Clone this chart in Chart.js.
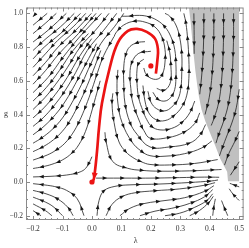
<!DOCTYPE html>
<html>
<head>
<meta charset="utf-8">
<script src="https://cdn.jsdelivr.net/npm/chart.js"></script>
<style>
html, body { margin: 0; padding: 0; background: #fff; }
</style>
</head>
<body>
<canvas id="myChart" width="249" height="248"></canvas>
<script>
// RG flow of (lambda, g): streamlines traced by eye, listed in flow direction
const leftLines = [
  [[-0.19,1.0],[-0.2,0.98]],
  [[-0.152,1.0],[-0.176,0.965],[-0.2,0.93]],
  [[-0.121,1.0],[-0.159,0.94],[-0.2,0.88]],
  [[-0.087,1.0],[-0.149,0.9],[-0.2,0.83]],
  [[-0.06,1.0],[-0.107,0.92],[-0.156,0.85],[-0.2,0.78]],
  [[-0.039,1.0],[-0.073,0.94],[-0.107,0.88],[-0.162,0.8],[-0.2,0.73]],
  [[-0.021,1.0],[-0.064,0.92],[-0.116,0.84],[-0.158,0.76],[-0.2,0.68]],
  [[-0.002,1.0],[-0.055,0.9],[-0.115,0.8],[-0.157,0.71],[-0.2,0.63]],
  [[0.014,1.0],[-0.046,0.88],[-0.112,0.76],[-0.158,0.66],[-0.2,0.58]],
  [[0.032,1.0],[-0.042,0.86],[-0.098,0.74],[-0.149,0.62],[-0.2,0.53]],
  [[-0.012,0.88],[-0.064,0.78],[-0.111,0.66],[-0.155,0.56],[-0.2,0.48]],
  [[0.058,1.0],[0.012,0.9],[-0.04,0.8],[-0.083,0.68],[-0.123,0.58],[-0.16,0.5],[-0.2,0.43]],
  [[-0.001,0.85],[-0.044,0.74],[-0.084,0.62],[-0.124,0.52],[-0.163,0.44],[-0.2,0.38]],
  [[0.084,1.0],[0.04,0.9],[-0.016,0.78],[-0.055,0.65],[-0.092,0.54],[-0.13,0.45],[-0.166,0.38],[-0.2,0.33]],
  [[0.0155,0.82],[-0.021,0.7],[-0.057,0.58],[-0.09,0.48],[-0.124,0.4],[-0.163,0.33],[-0.2,0.28]],
  [[0.108,1.0],[0.076,0.92],[0.03,0.82],[-0.004,0.7],[-0.035,0.58],[-0.068,0.47],[-0.1,0.38],[-0.136,0.31],[-0.172,0.26],[-0.2,0.23]],
  [[0.03,0.78],[0.004,0.66],[-0.024,0.54],[-0.051,0.44],[-0.076,0.36],[-0.101,0.3],[-0.131,0.25],[-0.165,0.21],[-0.2,0.18]],
  [[0.074,0.86],[0.04,0.75],[0.019,0.65],[0.0,0.55],[-0.021,0.45],[-0.043,0.36],[-0.065,0.29],[-0.092,0.23],[-0.121,0.19],[-0.152,0.16],[-0.2,0.13]],
  [[0.028,0.6],[0.012,0.5],[-0.004,0.4],[-0.022,0.3],[-0.045,0.22],[-0.069,0.17],[-0.101,0.13],[-0.136,0.105],[-0.169,0.09],[-0.2,0.08]],
  [[0.0,0.15],[-0.008,0.12],[-0.022,0.08],[-0.04,0.06],[-0.072,0.045],[-0.126,0.035],[-0.2,0.03]]
];

const lowerLeftLines = [
  [[-0.027,-0.2],[-0.05,-0.1],[-0.086,-0.05],[-0.12,-0.03],[-0.15,-0.02],[-0.2,-0.01]],
  [[-0.064,-0.2],[-0.082,-0.15],[-0.117,-0.1],[-0.156,-0.07],[-0.2,-0.05]],
  [[-0.1,-0.2],[-0.129,-0.15],[-0.157,-0.12],[-0.2,-0.09]],
  [[-0.136,-0.2],[-0.158,-0.17],[-0.2,-0.13]],
  [[-0.173,-0.2],[-0.2,-0.17]]
];

const rightLines = [
  [[0.014,0.023],[0.095,0.023],[0.197,0.023],[0.298,0.026],[0.383,0.029],[0.432,0.028]],
  [[0.044,0.295],[0.048,0.237],[0.071,0.121],[0.122,0.081],[0.17,0.069],[0.231,0.064],[0.332,0.066],[0.417,0.072],[0.44,0.074]],
  [[0.071,0.526],[0.068,0.468],[0.075,0.353],[0.092,0.237],[0.115,0.179],[0.139,0.145],[0.166,0.121],[0.197,0.104],[0.264,0.101],[0.349,0.11],[0.427,0.133]],
  [[0.088,0.665],[0.085,0.584],[0.088,0.468],[0.102,0.353],[0.136,0.237],[0.166,0.185],[0.197,0.156],[0.248,0.153],[0.315,0.168],[0.373,0.202],[0.407,0.243]],
  [[0.18,0.832],[0.156,0.827],[0.129,0.803],[0.115,0.757],[0.108,0.682],[0.108,0.584],[0.112,0.468],[0.129,0.353],[0.153,0.283],[0.197,0.208],[0.264,0.208],[0.332,0.231],[0.366,0.277],[0.386,0.341]],
  [[0.2,0.775],[0.159,0.763],[0.136,0.711],[0.129,0.642],[0.132,0.555],[0.139,0.468],[0.163,0.353],[0.176,0.306],[0.197,0.26],[0.258,0.263],[0.312,0.295],[0.349,0.347],[0.366,0.41]],
  [[0.176,0.728],[0.159,0.705],[0.153,0.665],[0.153,0.584],[0.159,0.497],[0.173,0.422],[0.186,0.37],[0.203,0.329],[0.231,0.309],[0.271,0.318],[0.305,0.353],[0.332,0.41],[0.349,0.48]]
];

const spiralLines = [
  [[0.176,0.676],[0.183,0.642],[0.203,0.613],[0.227,0.613],[0.241,0.647],[0.248,0.711],[0.248,0.786],[0.237,0.861],[0.214,0.919],[0.18,0.948],[0.146,0.954],[0.108,0.931],[0.081,0.884],[0.075,0.861]],
  [[0.22,0.555],[0.241,0.543],[0.258,0.561],[0.268,0.607],[0.268,0.688],[0.264,0.769],[0.254,0.838]],
  [[0.207,0.532],[0.224,0.491],[0.248,0.48],[0.268,0.503],[0.281,0.549],[0.285,0.613],[0.285,0.699],[0.281,0.786],[0.268,0.861],[0.248,0.919],[0.22,0.96],[0.186,0.983],[0.153,0.988],[0.122,0.983],[0.102,0.983]],
  [[0.19,0.538],[0.2,0.474],[0.22,0.434],[0.248,0.422],[0.271,0.445],[0.292,0.491],[0.302,0.561],[0.305,0.653],[0.305,0.757],[0.298,0.856],[0.285,0.931],[0.264,0.983],[0.248,1.0]],
  [[0.173,0.572],[0.18,0.48],[0.193,0.41],[0.217,0.37],[0.248,0.364],[0.278,0.393],[0.305,0.445],[0.322,0.515],[0.329,0.613],[0.329,0.728],[0.325,0.844],[0.319,0.942],[0.312,1.0]]
];

const lowerRightLines = [
  [[0.017,-0.2],[0.024,-0.11],[0.041,-0.052],[0.078,-0.026],[0.129,-0.017],[0.231,-0.012],[0.332,-0.003],[0.405,0.006],[0.428,0.012]],
  [[0.048,-0.2],[0.068,-0.133],[0.102,-0.087],[0.146,-0.064],[0.214,-0.052],[0.298,-0.041],[0.383,-0.019],[0.418,-0.004]],
  [[0.095,-0.2],[0.129,-0.156],[0.18,-0.127],[0.248,-0.11],[0.315,-0.093],[0.383,-0.055],[0.414,-0.022]],
  [[0.163,-0.2],[0.214,-0.173],[0.271,-0.156],[0.332,-0.127],[0.383,-0.087],[0.41,-0.045]],
  [[0.248,-0.2],[0.298,-0.185],[0.349,-0.15],[0.39,-0.11],[0.41,-0.07]],
  [[0.332,-0.2],[0.366,-0.168],[0.397,-0.121],[0.412,-0.085]],
  [[0.41,-0.2],[0.414,-0.145],[0.419,-0.1]],
  [[0.5,-0.11],[0.479,-0.072],[0.466,-0.04]],
  [[0.5,-0.029],[0.48,-0.016],[0.468,-0.008]],
  [[0.461,-0.2],[0.449,-0.15],[0.44,-0.11]]
];

const singularLines = [
  [[0.346,1.0],[0.347,0.87],[0.347,0.76]],
  [[0.38,1.0],[0.379,0.83],[0.374,0.66],[0.366,0.52]],
  [[0.414,1.0],[0.413,0.82],[0.408,0.64],[0.398,0.5],[0.384,0.4]],
  [[0.447,1.0],[0.446,0.8],[0.44,0.6],[0.43,0.47],[0.415,0.38],[0.405,0.335]],
  [[0.481,1.0],[0.48,0.8],[0.474,0.6],[0.463,0.46],[0.447,0.36],[0.43,0.28],[0.421,0.23]],
  [[0.5,0.55],[0.49,0.44],[0.475,0.35],[0.455,0.26],[0.44,0.19],[0.433,0.155]],
  [[0.5,0.3],[0.485,0.24],[0.465,0.17],[0.45,0.1]],
  [[0.5,0.12],[0.485,0.08],[0.47,0.04]]
];

const singularBoundary = [[0.329,1.035],[0.335,0.95],[0.34,0.854],[0.345,0.76],[0.351,0.661],[0.357,0.58],[0.363,0.508],[0.372,0.43],[0.385,0.36],[0.401,0.29],[0.419,0.214],[0.436,0.137],[0.45,0.09],[0.459,0.06],[0.462,0.005],[0.5,0.005]];

const separatrix = [[0.217,0.642],[0.222,0.72],[0.224,0.786],[0.214,0.85],[0.186,0.89],[0.153,0.908],[0.122,0.896],[0.088,0.827],[0.061,0.682],[0.034,0.468],[0.024,0.324],[0.017,0.179],[0.007,0.023],[0.002,0.0]];
const fixedPoints = [[0.2,0.688],[0.0,0.0]];

const xTicks = [-0.2, -0.1, 0.0, 0.1, 0.2, 0.3, 0.4, 0.5];
const yTicks = [-0.2, 0.0, 0.2, 0.4, 0.6, 0.8, 1.0];

const serif = '"Liberation Serif", "DejaVu Serif", serif';
const toPts = arr => arr.map(p => ({ x: p[0], y: p[1] }));
const fmt = v => (Math.abs(v) < 1e-9 ? '0.0' : (v < 0 ? '\u2212' + Math.abs(v).toFixed(1) : v.toFixed(1)));

const datasets = [];
datasets.push({ data: toPts(fixedPoints), showLine: false, pointRadius: 2.6, pointBackgroundColor: 'rgb(235,20,20)', pointBorderWidth: 0, order: -3 });
datasets.push({ data: toPts(separatrix), showLine: true, borderColor: 'rgb(235,20,20)', borderWidth: 2.7, pointRadius: 0, tension: 0.4, order: -2, red: true });
[...leftLines, ...lowerLeftLines, ...rightLines, ...spiralLines, ...lowerRightLines, ...singularLines].forEach(l => {
  datasets.push({ data: toPts(l), showLine: true, borderColor: '#202020', borderWidth: 0.8, pointRadius: 0, tension: 0.4, stream: true });
});
datasets.push({ data: toPts(singularBoundary), showLine: true, borderWidth: 0, pointRadius: 0, tension: 0, fill: 'end', backgroundColor: 'rgb(192,192,192)', order: 10 });

// sample the drawn bezier curve of a dataset in pixels
function curvePath(meta) {
  const pts = meta.data;
  const out = [];
  for (let k = 0; k < pts.length; k++) {
    const p = pts[k];
    if (k === 0) { out.push([p.x, p.y]); continue; }
    const q = pts[k - 1];
    const ax = q.cp2x !== undefined ? q.cp2x : q.x, ay = q.cp2y !== undefined ? q.cp2y : q.y;
    const bx = p.cp1x !== undefined ? p.cp1x : p.x, by = p.cp1y !== undefined ? p.cp1y : p.y;
    for (let t = 1; t <= 10; t++) {
      const s = t / 10, u = 1 - s;
      out.push([u*u*u*q.x + 3*u*u*s*ax + 3*u*s*s*bx + s*s*s*p.x,
                u*u*u*q.y + 3*u*u*s*ay + 3*u*s*s*by + s*s*s*p.y]);
    }
  }
  return out;
}

function arrowAt(ctx, path, cum, d, len, half) {
  let i = 1;
  while (i < cum.length - 1 && cum[i] < d) i++;
  const seg = (cum[i] - cum[i - 1]) || 1;
  const t = Math.min(1, Math.max(0, (d - cum[i - 1]) / seg));
  const x = path[i - 1][0] + t * (path[i][0] - path[i - 1][0]);
  const y = path[i - 1][1] + t * (path[i][1] - path[i - 1][1]);
  let dx = path[i][0] - path[i - 1][0], dy = path[i][1] - path[i - 1][1];
  const m = Math.hypot(dx, dy) || 1; dx /= m; dy /= m;
  ctx.beginPath();
  ctx.moveTo(x + dx * len * 0.5, y + dy * len * 0.5);
  ctx.lineTo(x - dx * len * 0.5 - dy * half, y - dy * len * 0.5 + dx * half);
  ctx.lineTo(x - dx * len * 0.5 + dy * half, y - dy * len * 0.5 - dx * half);
  ctx.closePath();
  ctx.fill();
}

const arrowPlugin = {
  id: 'arrows',
  afterDatasetDraw(chart, args) {
    const ds = chart.data.datasets[args.index];
    if (!ds.stream && !ds.red) return;
    const path = curvePath(args.meta);
    const cum = [0];
    for (let i = 1; i < path.length; i++) cum.push(cum[i - 1] + Math.hypot(path[i][0] - path[i - 1][0], path[i][1] - path[i - 1][1]));
    const total = cum[cum.length - 1];
    if (total < 3) return;
    const ctx = chart.ctx;
    ctx.save();
    if (ds.red) {
      ctx.fillStyle = 'rgb(235,20,20)';
      arrowAt(ctx, path, cum, total - 6, 7, 3);
    } else {
      ctx.fillStyle = '#151515';
      const n = Math.max(1, Math.round(total / 17));
      const gap = total / n;
      for (let j = 0; j < n; j++) arrowAt(ctx, path, cum, gap * (j + 0.5), 4.5, 1.8);
    }
    ctx.restore();
  }
};

const framePlugin = {
  id: 'frame',
  afterDraw(chart) {
    const { ctx, chartArea: a, scales: { x, y } } = chart;
    ctx.save();
    ctx.strokeStyle = '#8a8a8a';
    ctx.lineWidth = 1;
    ctx.strokeRect(a.left + 0.5, a.top + 0.5, a.right - a.left - 1, a.bottom - a.top - 1);
    ctx.beginPath();
    for (let i = -11; i <= 25; i++) {
      const v = i * 0.02;
      const major = i % 5 === 0;
      const L = major ? 4 : 2;
      const px = Math.round(x.getPixelForValue(v)) + 0.5;
      if (px < a.left + 1 || px > a.right - 1) continue;
      ctx.moveTo(px, a.bottom); ctx.lineTo(px, a.bottom - L);
      ctx.moveTo(px, a.top); ctx.lineTo(px, a.top + L);
    }
    for (let i = -4; i <= 20; i++) {
      const v = i * 0.05;
      const major = i % 4 === 0;
      const L = major ? 4 : 2;
      const py = Math.round(y.getPixelForValue(v)) + 0.5;
      if (py < a.top + 1 || py > a.bottom - 1) continue;
      ctx.moveTo(a.left, py); ctx.lineTo(a.left + L, py);
      ctx.moveTo(a.right, py); ctx.lineTo(a.right - L, py);
    }
    ctx.stroke();
    ctx.fillStyle = '#333';
    ctx.font = '8px ' + serif;
    ctx.textAlign = 'center';
    ctx.textBaseline = 'middle';
    ctx.fillText('\u03bb', (a.left + a.right) / 2 + 1, 241);
    ctx.fillText('g', 6, (a.top + a.bottom) / 2);
    ctx.restore();
  }
};

new Chart(document.getElementById('myChart').getContext('2d'), {
  type: 'scatter',
  data: { datasets: datasets },
  options: {
    responsive: false,
    animation: false,
    devicePixelRatio: 1,
    layout: { padding: { top: 2, right: 5, left: 0, bottom: 0 } },
    plugins: { legend: { display: false }, tooltip: { enabled: false } },
    scales: {
      x: {
        type: 'linear', min: -0.224, max: 0.515,
        afterBuildTicks: s => { s.ticks = xTicks.map(v => ({ value: v })); },
        afterFit: s => { s.height = 28; },
        grid: { display: false, drawTicks: false },
        border: { display: false },
        ticks: { padding: 5, autoSkip: false, maxRotation: 0, color: '#333', font: { family: serif, size: 7.5 }, callback: v => fmt(v) }
      },
      y: {
        type: 'linear', min: -0.2254, max: 1.0347,
        afterBuildTicks: s => { s.ticks = yTicks.map(v => ({ value: v })); },
        afterFit: s => { s.width = 26; },
        grid: { display: false, drawTicks: false },
        border: { display: false },
        ticks: { padding: 3, autoSkip: false, color: '#333', font: { family: serif, size: 7.5 }, callback: v => fmt(v) }
      }
    }
  },
  plugins: [arrowPlugin, framePlugin]
});
</script>
</body>
</html>
